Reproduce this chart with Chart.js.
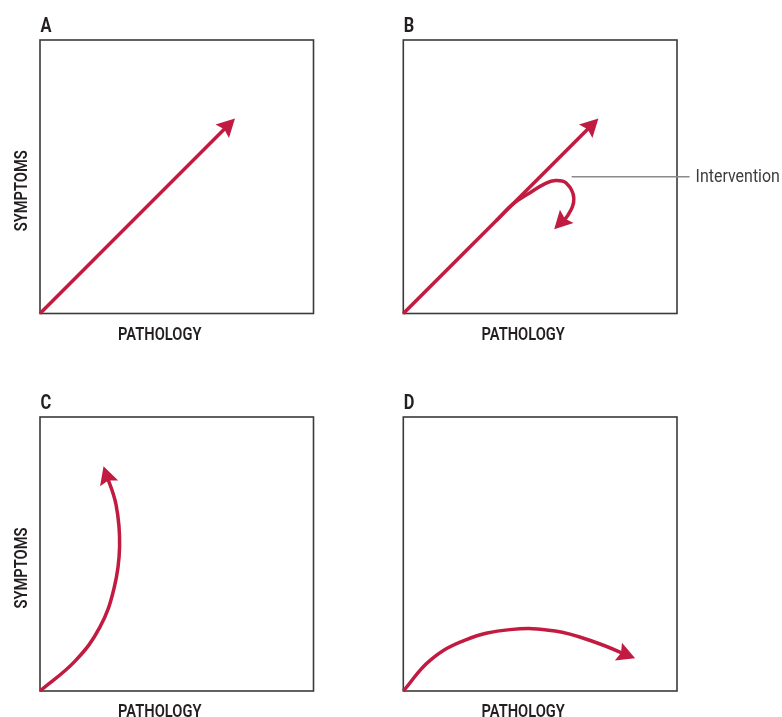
<!DOCTYPE html>
<html><head><meta charset="utf-8">
<script src="https://cdn.jsdelivr.net/npm/chart.js@4.4.1/dist/chart.umd.min.js"></script>
<style>
html,body{margin:0;padding:0;background:#fff;}
#wrap{position:relative;width:782px;height:717px;overflow:hidden;}
.panel{position:absolute;}
.panel canvas{display:block;}
</style></head><body>
<div id="wrap">
  <div class="panel" style="left:0;top:0;width:391px;height:358px"><canvas id="cA"></canvas></div>
  <div class="panel" style="left:391px;top:0;width:391px;height:358px"><canvas id="cB"></canvas></div>
  <div class="panel" style="left:0;top:358px;width:391px;height:359px"><canvas id="cC"></canvas></div>
  <div class="panel" style="left:391px;top:358px;width:391px;height:359px"><canvas id="cD"></canvas></div>
</div>
<script>
// ---- text ----
const panelLetters = ['A', 'B', 'C', 'D'];
const xAxisLabel = 'PATHOLOGY';
const yAxisLabel = 'SYMPTOMS';
const interventionLabel = 'Intervention';

// ---- curves (axis units 0..1, origin bottom-left) ----
const pathAX = [0, 0.70];
const pathAY = [0, 0.70];
const pathBX = [0, 0.70];
const pathBY = [0, 0.70];
const branchBX = [0.34, 0.40, 0.46, 0.52, 0.556, 0.595, 0.623, 0.602, 0.564];
const branchBY = [0.34, 0.40, 0.44, 0.476, 0.486, 0.477, 0.422, 0.360, 0.321];
const pathCX = [0, 0.128, 0.219, 0.271, 0.291, 0.278, 0.238];
const pathCY = [0, 0.109, 0.233, 0.376, 0.526, 0.680, 0.803];
const pathDX = [0, 0.098, 0.226, 0.390, 0.555, 0.701, 0.830];
const pathDY = [0, 0.112, 0.186, 0.224, 0.219, 0.178, 0.126];

const RED = '#c21b41';
const INK = '#231f20';
const FONT = "Roboto, 'Liberation Sans', sans-serif";
const CONDENSE = 0.84;

function pts(xs, ys) { return xs.map((x, i) => ({ x: x, y: ys[i] })); }

function drawArrowHead(ctx, x, y, ang) {
  const len = 18, half = 9.5, ahead = 5;
  ctx.save();
  ctx.translate(x + Math.cos(ang) * ahead, y + Math.sin(ang) * ahead);
  ctx.rotate(ang);
  ctx.beginPath();
  ctx.moveTo(0, 0);
  ctx.lineTo(-len, -half);
  ctx.lineTo(-len * 0.84, 0);
  ctx.lineTo(-len, half);
  ctx.closePath();
  ctx.fillStyle = RED;
  ctx.fill();
  ctx.restore();
}

// condensed text: real canvas text, squeezed horizontally
function condText(ctx, text, x, y, rot) {
  ctx.save();
  ctx.translate(x, y);
  if (rot) ctx.rotate(rot);
  ctx.scale(CONDENSE, 1);
  ctx.fillText(text, 0, 0);
  ctx.restore();
}

const decorPlugin = {
  id: 'panelDecor',
  beforeDatasetsDraw(chart) {
    const a = chart.chartArea, ctx = chart.ctx;
    ctx.save();
    ctx.strokeStyle = '#3a3a3a';
    ctx.lineWidth = 1.6;
    ctx.strokeRect(a.left, a.top, a.right - a.left, a.bottom - a.top);
    ctx.restore();
  },
  afterDatasetsDraw(chart) {
    const ctx = chart.ctx;
    chart.data.datasets.forEach((ds, i) => {
      const meta = chart.getDatasetMeta(i);
      const p = meta.data;
      const last = p[p.length - 1];
      let px = last.cp1x, py = last.cp1y;
      if (px === undefined || Math.hypot(last.x - px, last.y - py) < 0.5) {
        px = p[p.length - 2].x; py = p[p.length - 2].y;
      }
      drawArrowHead(ctx, last.x, last.y, Math.atan2(last.y - py, last.x - px));
    });
  },
  afterDraw(chart) {
    const a = chart.chartArea, ctx = chart.ctx;
    const o = chart.options.plugins.panelDecor;
    const cx = (a.left + a.right) / 2, cy = (a.top + a.bottom) / 2;
    ctx.save();
    ctx.fillStyle = INK;
    ctx.textBaseline = 'alphabetic';
    // panel letter
    ctx.font = 'bold 19.5px ' + FONT;
    ctx.textAlign = 'left';
    condText(ctx, o.letter, a.left + 0.5, a.top - 8);
    // x label
    ctx.font = '600 17.5px ' + FONT;
    ctx.textAlign = 'center';
    condText(ctx, xAxisLabel, cx - 17, a.bottom + 26);
    // y label
    condText(ctx, yAxisLabel, a.left - 13.5, cy + 14, -Math.PI / 2);
    // annotation
    if (o.note) {
      const xs = chart.scales.x, ys = chart.scales.y;
      const yy = ys.getPixelForValue(o.note.y);
      ctx.strokeStyle = '#8a8a8a';
      ctx.lineWidth = 1.5;
      ctx.beginPath();
      ctx.moveTo(xs.getPixelForValue(o.note.from), yy);
      ctx.lineTo(xs.getPixelForValue(o.note.to), yy);
      ctx.stroke();
      ctx.font = '19px ' + FONT;
      ctx.fillStyle = '#3c3c3c';
      ctx.textAlign = 'left';
      condText(ctx, o.note.text, xs.getPixelForValue(o.note.to) + 6, yy + 5);
    }
    ctx.restore();
  }
};

function makeChart(id, letter, datasets, padding, note) {
  return new Chart(document.getElementById(id), {
    type: 'scatter',
    data: {
      datasets: datasets.map(d => ({
        data: d.data,
        showLine: true,
        borderColor: RED,
        backgroundColor: RED,
        borderWidth: 3.5,
        pointRadius: 0,
        pointHoverRadius: 0,
        tension: d.tension,
        borderCapStyle: 'butt',
        clip: 2
      }))
    },
    options: {
      responsive: true,
      maintainAspectRatio: false,
      animation: false,
      events: [],
      layout: { padding: padding },
      scales: {
        x: { type: 'linear', min: 0, max: 1, display: false },
        y: { type: 'linear', min: 0, max: 1, display: false }
      },
      plugins: {
        legend: { display: false },
        tooltip: { enabled: false },
        panelDecor: { letter: letter, note: note }
      }
    },
    plugins: [decorPlugin]
  });
}

makeChart('cA', panelLetters[0],
  [{ data: pts(pathAX, pathAY), tension: 0 }],
  { left: 40, top: 40, right: 77.5, bottom: 44.5 });
makeChart('cB', panelLetters[1],
  [{ data: pts(pathBX, pathBY), tension: 0 }, { data: pts(branchBX, branchBY), tension: 0.4 }],
  { left: 12.3, top: 40, right: 105, bottom: 44.5 },
  { from: 0.615, to: 1.046, y: 0.50, text: interventionLabel });
makeChart('cC', panelLetters[2],
  [{ data: pts(pathCX, pathCY), tension: 0.4 }],
  { left: 40, top: 59, right: 77.5, bottom: 26 });
makeChart('cD', panelLetters[3],
  [{ data: pts(pathDX, pathDY), tension: 0.4 }],
  { left: 12.3, top: 59, right: 105, bottom: 26 });
</script>
</body></html>
